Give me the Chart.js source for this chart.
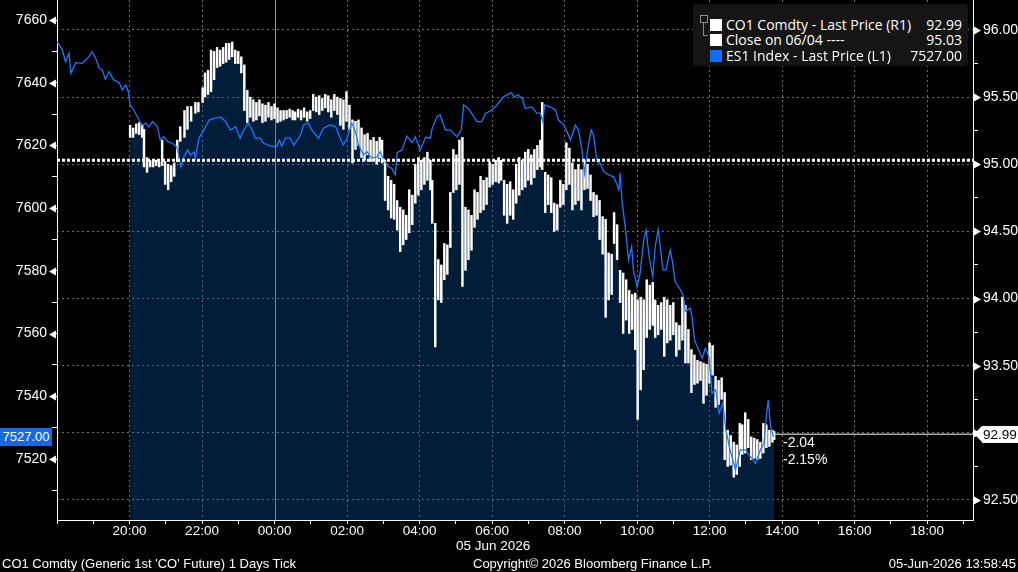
<!DOCTYPE html>
<html>
<head>
<meta charset="utf-8">
<title>CO1 Comdty vs ES1 Index</title>
<script src="https://cdn.jsdelivr.net/npm/chart.js@4.4.0/dist/chart.umd.min.js"></script>
<style>
	body { margin: 0; background: #000; }
	#wrap { position: relative; width: 1018px; height: 572px; overflow: hidden; background: #000; color: #fff;
		font-family: "Liberation Sans", Arial, sans-serif; }
	#chart { position: absolute; left: 0; top: 0; }
	.abs { position: absolute; white-space: nowrap; }
	#legend { left: 693px; top: 4px; width: 275px; height: 62px; background: #151515; border-radius: 4px;
		font-family: "Open Sans", "Liberation Sans", sans-serif; font-size: 14px; }
	#legend .row { position: absolute; left: 17px; right: 6px; height: 16px; line-height: 16px; }
	#legend .sq { position: absolute; left: 0; top: 2px; width: 12px; height: 12px; }
	#legend .name { position: absolute; left: 16px; }
	#legend .val { position: absolute; right: 0; }
	#legend .fold { position: absolute; left: 7px; top: 11px; width: 6px; height: 6px; border: 1px solid #8a8a8a; }
	#legend .tree { position: absolute; left: 10px; top: 19px; width: 4px; height: 12px; border-left: 1px solid #8a8a8a; border-bottom: 1px solid #8a8a8a; }
	#tagLeft { left: 0; top: 428px; width: 52px; height: 18px; line-height: 18px; background: #1668e3; text-align: center; font-size: 13px; }
	#tagRight { left: 982px; top: 426px; width: 36px; height: 17px; line-height: 17px; background: #fff; color: #000; font-size: 13.5px; text-align: left; padding-left: 1px; }
	#tagArrow { left: 974px; top: 426px; width: 0; height: 0; border-top: 8.5px solid transparent; border-bottom: 8.5px solid transparent; border-right: 8px solid #fff; }
	#chg { left: 783px; top: 434px; font-size: 14px; line-height: 17px; }
	#dateLabel { left: 456px; top: 538px; font-size: 13.5px; line-height: 16px; }
	.foot { top: 556px; font-size: 13px; line-height: 16px; }
</style>
</head>
<body>
<div id="wrap">
	<canvas id="chart" width="1018" height="572"></canvas>

	<div id="legend" class="abs">
		<div class="fold"></div>
		<div class="tree"></div>
		<div class="row" style="top: 13px"><span class="sq" style="background:#fff"></span><span class="name">CO1 Comdty - Last Price (R1)</span><span class="val" id="valCo1"></span></div>
		<div class="row" style="top: 28px"><span class="sq" style="background:#fff"></span><span class="name">Close on 06/04 ----</span><span class="val" id="valPrev"></span></div>
		<div class="row" style="top: 44px"><span class="sq" style="background:#0f6dfc"></span><span class="name">ES1 Index - Last Price (L1)</span><span class="val" id="valEs"></span></div>
	</div>

	<div id="tagLeft" class="abs"></div>
	<div id="tagArrow" class="abs"></div>
	<div id="tagRight" class="abs"></div>
	<div id="chg" class="abs"></div>
	<div id="dateLabel" class="abs">05 Jun 2026</div>

	<div class="abs foot" style="left: 2px">CO1 Comdty (Generic 1st 'CO' Future) 1 Days Tick</div>
	<div class="abs foot" style="left: 473px">Copyright© 2026 Bloomberg Finance L.P.</div>
	<div class="abs foot" style="right: 2px">05-Jun-2026 13:58:45</div>
</div>

<script>
// x values are minutes after 18:00 on 04 Jun
const startHour = 18;
const xMin = 0;
const xMax = 1516;
const dayBreak = 360; // 00:00, 05 Jun

// ES1 Index last price (left axis)
const esTimes = [
	0, 9, 14, 20, 23, 31, 42, 53, 58, 64,
	70, 75, 80, 86, 94, 103, 108, 114, 118, 121,
	127, 136, 141, 147, 152, 158, 166, 171, 177, 183,
	191, 198, 202, 205, 210, 216, 221, 227, 229, 235,
	243, 252, 260, 271, 279, 287, 296, 303, 309, 317,
	323, 328, 336, 342, 356, 364, 368, 372, 378, 386,
	392, 403, 408, 416, 422, 433, 441, 452, 461, 469,
	474, 480, 488, 494, 499, 507, 513, 521, 530, 535,
	541, 549, 554, 560, 563, 571, 579, 588, 593, 601,
	610, 618, 621, 629, 634, 643, 651, 662, 669, 673,
	681, 695, 703, 709, 720, 728, 739, 745, 752, 757,
	763, 770, 775, 786, 794, 800, 804, 807, 816, 825,
	830, 839, 844, 850, 858, 863, 869, 873, 879, 884,
	888, 894, 899, 905, 913, 921, 925, 930, 932, 935,
	941, 946, 951, 954, 960, 965, 971, 975, 980, 986,
	990, 995, 999, 1003, 1008, 1015, 1019, 1023, 1032, 1037,
	1040, 1048, 1051, 1055, 1062, 1068, 1073, 1079, 1084, 1090,
	1096, 1102, 1107, 1114, 1123, 1131, 1139, 1148, 1156, 1164,
	1170, 1174, 1177, 1181, 1186,
];
const esValues = [
	7653.1, 7650.4, 7646.7, 7649.4, 7643.0, 7646.4, 7646.2, 7648.3, 7649.9, 7647.8,
	7644.6, 7644.1, 7641.1, 7643.5, 7640.9, 7640.0, 7637.7, 7639.3, 7637.1, 7632.9,
	7631.3, 7628.1, 7626.5, 7627.1, 7626.0, 7627.6, 7626.0, 7621.7, 7622.8, 7621.2,
	7620.7, 7619.6, 7616.4, 7613.2, 7616.4, 7618.5, 7616.9, 7618.0, 7615.9, 7622.3,
	7624.9, 7628.1, 7628.6, 7629.0, 7627.6, 7624.9, 7626.0, 7622.3, 7624.9, 7627.1,
	7624.9, 7622.3, 7622.3, 7620.7, 7619.6, 7619.8, 7621.7, 7619.8, 7622.3, 7622.3,
	7620.1, 7623.3, 7626.5, 7627.1, 7624.9, 7622.3, 7625.5, 7626.5, 7626.0, 7622.3,
	7620.1, 7622.3, 7627.1, 7624.4, 7620.1, 7617.0, 7618.0, 7615.9, 7616.4, 7618.0,
	7615.3, 7613.2, 7612.7, 7610.6, 7617.7, 7618.5, 7623.0, 7620.9, 7622.8, 7618.5,
	7622.6, 7622.3, 7625.5, 7629.2, 7629.7, 7624.9, 7624.9, 7622.8, 7624.9, 7632.9,
	7631.8, 7627.6, 7627.6, 7630.2, 7631.3, 7632.9, 7635.5, 7636.1, 7636.8, 7635.5,
	7636.1, 7635.0, 7631.8, 7632.3, 7630.3, 7630.3, 7627.6, 7632.9, 7632.3, 7631.3,
	7628.1, 7626.5, 7624.4, 7621.7, 7626.5, 7624.9, 7618.5, 7611.1, 7619.6, 7624.9,
	7623.3, 7614.8, 7614.3, 7611.6, 7610.6, 7610.0, 7608.4, 7605.8, 7611.3, 7602.6,
	7593.0, 7583.5, 7587.7, 7580.3, 7574.9, 7579.2, 7589.8, 7593.0, 7584.5, 7578.1,
	7587.7, 7593.2, 7586.7, 7580.3, 7580.3, 7586.7, 7582.4, 7576.6, 7573.9, 7571.8,
	7567.0, 7568.1, 7565.4, 7558.0, 7554.8, 7552.1, 7555.3, 7552.6, 7541.0, 7542.0,
	7534.6, 7537.8, 7529.3, 7522.9, 7516.5, 7522.9, 7522.9, 7520.7, 7518.6, 7522.9,
	7525.0, 7533.5, 7538.8, 7530.3, 7527.0,
];

// CO1 Comdty tick bars (right axis)
const co1Times = [
	121, 126, 131, 136, 141, 144, 149, 154, 159, 164,
	169, 174, 179, 184, 189, 194, 199, 204, 211, 216,
	222, 229, 234, 241, 245, 250, 255, 260, 265, 270,
	275, 280, 285, 290, 295, 300, 305, 310, 315, 320,
	325, 330, 335, 340, 345, 350, 355, 360, 365, 370,
	375, 380, 385, 390, 394, 399, 404, 409, 414, 419,
	424, 429, 434, 439, 444, 449, 454, 459, 464, 469,
	474, 479, 484, 489, 494, 499, 504, 509, 514, 519,
	524, 529, 534, 538, 543, 548, 553, 558, 563, 568,
	573, 578, 583, 588, 593, 598, 603, 608, 613, 618,
	621, 626, 631, 636, 641, 646, 651, 656, 661, 666,
	671, 676, 681, 686, 691, 696, 701, 706, 711, 716,
	721, 726, 731, 735, 740, 745, 750, 755, 760, 765,
	770, 775, 780, 785, 790, 795, 800, 803, 808, 813,
	818, 823, 828, 833, 838, 843, 848, 853, 858, 863,
	868, 873, 878, 883, 888, 893, 898, 903, 908, 913,
	918, 922, 927, 932, 937, 942, 947, 952, 957, 961,
	966, 971, 976, 981, 986, 990, 995, 1000, 1005, 1010,
	1015, 1020, 1025, 1030, 1035, 1040, 1045, 1050, 1055, 1060,
	1065, 1070, 1075, 1080, 1085, 1090, 1095, 1100, 1105, 1110,
	1115, 1120, 1125, 1130, 1134, 1139, 1144, 1149, 1154, 1159,
	1164, 1169, 1174, 1179, 1184, 1187,
];
const co1High = [
	95.29, 95.27, 95.30, 95.31, 95.29, 95.26, 95.05, 95.03, 95.02, 95.03,
	95.02, 95.18, 95.02, 95.00, 94.99, 95.01, 95.18, 95.28, 95.40, 95.43,
	95.43, 95.46, 95.46, 95.57, 95.68, 95.70, 95.85, 95.84, 95.87, 95.85,
	95.87, 95.90, 95.90, 95.91, 95.85, 95.84, 95.80, 95.74, 95.55, 95.50,
	95.48, 95.46, 95.48, 95.45, 95.44, 95.46, 95.43, 95.45, 95.42, 95.40,
	95.40, 95.40, 95.41, 95.40, 95.39, 95.41, 95.40, 95.42, 95.39, 95.40,
	95.52, 95.50, 95.51, 95.49, 95.52, 95.51, 95.48, 95.52, 95.50, 95.49,
	95.48, 95.54, 95.44, 95.33, 95.32, 95.33, 95.27, 95.22, 95.23, 95.18,
	95.20, 95.17, 95.20, 95.18, 95.03, 94.91, 94.88, 94.85, 94.73, 94.68,
	94.66, 94.62, 94.81, 94.77, 95.00, 95.05, 95.03, 95.05, 95.09, 95.03,
	94.88, 94.56, 94.29, 94.25, 94.41, 94.40, 94.79, 95.11, 95.07, 95.18,
	95.20, 94.68, 94.66, 94.62, 94.81, 94.79, 94.91, 94.88, 94.90, 95.02,
	95.00, 95.03, 95.05, 95.03, 94.88, 94.85, 94.87, 94.81, 95.00, 95.05,
	95.03, 95.09, 95.11, 95.07, 95.11, 95.14, 95.18, 95.46, 94.94, 94.92,
	94.90, 94.71, 94.70, 94.88, 94.85, 95.16, 95.12, 95.01, 94.96, 95.00,
	94.96, 95.03, 95.00, 94.92, 94.79, 94.77, 94.73, 94.61, 94.59, 94.34,
	94.33, 94.64, 94.55, 94.21, 94.19, 94.14, 94.06, 94.03, 94.04, 93.99,
	94.01, 93.99, 94.14, 94.10, 94.12, 93.99, 93.95, 93.97, 94.01, 93.99,
	93.95, 93.97, 93.82, 93.80, 94.01, 93.95, 93.77, 93.62, 93.58, 93.54,
	93.53, 93.52, 93.51, 93.67, 93.65, 93.42, 93.39, 93.41, 93.30, 93.02,
	92.98, 92.93, 92.91, 93.07, 93.06, 93.15, 93.10, 92.97, 92.96, 92.95,
	92.93, 93.07, 93.06, 93.02, 93.02, 93.01,
];
const co1Low = [
	95.20, 95.20, 95.23, 95.22, 95.20, 94.98, 94.94, 94.98, 94.98, 94.99,
	94.98, 94.99, 94.85, 94.81, 94.87, 94.91, 95.02, 95.17, 95.20, 95.26,
	95.32, 95.38, 95.39, 95.46, 95.50, 95.52, 95.54, 95.63, 95.72, 95.73,
	95.75, 95.76, 95.78, 95.80, 95.75, 95.75, 95.68, 95.40, 95.31, 95.35,
	95.32, 95.33, 95.36, 95.31, 95.32, 95.35, 95.33, 95.34, 95.31, 95.32,
	95.33, 95.34, 95.35, 95.33, 95.33, 95.35, 95.33, 95.35, 95.32, 95.34,
	95.40, 95.39, 95.37, 95.40, 95.42, 95.39, 95.35, 95.40, 95.37, 95.29,
	95.26, 95.32, 95.26, 95.01, 95.11, 95.14, 95.05, 95.03, 95.07, 95.02,
	95.03, 95.00, 95.05, 95.01, 94.73, 94.66, 94.60, 94.59, 94.51, 94.35,
	94.40, 94.44, 94.49, 94.55, 94.71, 94.77, 94.81, 94.85, 94.88, 94.81,
	94.56, 93.64, 93.99, 93.97, 94.14, 94.18, 94.38, 94.79, 94.81, 94.85,
	94.09, 94.21, 94.29, 94.36, 94.53, 94.59, 94.64, 94.66, 94.70, 94.83,
	94.85, 94.87, 94.86, 94.88, 94.62, 94.56, 94.62, 94.59, 94.71, 94.77,
	94.81, 94.83, 94.88, 94.85, 94.90, 94.96, 94.98, 94.96, 94.64, 94.70,
	94.64, 94.50, 94.51, 94.68, 94.70, 94.81, 94.85, 94.66, 94.70, 94.73,
	94.66, 94.81, 94.82, 94.73, 94.61, 94.62, 94.44, 94.33, 93.86, 93.99,
	94.03, 94.41, 94.29, 93.97, 93.74, 93.84, 93.74, 93.77, 93.62, 93.10,
	93.32, 93.47, 93.71, 93.77, 93.80, 93.71, 93.73, 93.77, 93.57, 93.67,
	93.69, 93.73, 93.57, 93.62, 93.69, 93.52, 93.52, 93.30, 93.36, 93.37,
	93.39, 93.22, 93.28, 93.37, 93.43, 93.19, 93.21, 93.25, 92.80, 92.75,
	92.76, 92.67, 92.69, 92.75, 92.84, 92.85, 92.89, 92.80, 92.81, 92.80,
	92.81, 92.85, 92.89, 92.90, 92.93, 92.95,
];
const co1Close = [
	95.23, 95.21, 95.26, 95.26, 95.25, 95.03, 95.00, 95.00, 95.00, 95.01,
	95.00, 95.03, 94.94, 94.91, 94.94, 94.96, 95.11, 95.21, 95.27, 95.33,
	95.37, 95.42, 95.43, 95.51, 95.57, 95.59, 95.63, 95.70, 95.78, 95.79,
	95.80, 95.81, 95.84, 95.85, 95.80, 95.79, 95.74, 95.48, 95.40, 95.40,
	95.39, 95.39, 95.42, 95.37, 95.39, 95.40, 95.39, 95.40, 95.35, 95.37,
	95.37, 95.37, 95.38, 95.37, 95.37, 95.38, 95.37, 95.39, 95.37, 95.37,
	95.45, 95.44, 95.43, 95.45, 95.46, 95.44, 95.42, 95.46, 95.43, 95.39,
	95.35, 95.40, 95.33, 95.18, 95.22, 95.24, 95.17, 95.12, 95.14, 95.09,
	95.11, 95.07, 95.12, 95.09, 94.85, 94.77, 94.73, 94.70, 94.62, 94.47,
	94.51, 94.53, 94.65, 94.66, 94.85, 94.92, 94.94, 94.96, 95.00, 94.90,
	94.70, 94.06, 94.14, 94.10, 94.27, 94.29, 94.55, 94.92, 94.94, 95.00,
	94.73, 94.44, 94.47, 94.50, 94.66, 94.67, 94.77, 94.77, 94.79, 94.92,
	94.92, 94.94, 94.96, 94.96, 94.75, 94.70, 94.73, 94.70, 94.85, 94.90,
	94.91, 94.96, 95.00, 94.96, 95.00, 95.05, 95.07, 95.11, 94.77, 94.81,
	94.77, 94.60, 94.60, 94.77, 94.77, 94.97, 95.00, 94.81, 94.82, 94.85,
	94.79, 94.92, 94.90, 94.85, 94.70, 94.70, 94.59, 94.47, 94.33, 94.18,
	94.20, 94.53, 94.40, 94.08, 93.99, 94.00, 93.92, 93.90, 93.84, 93.69,
	93.77, 93.80, 93.92, 93.95, 93.99, 93.86, 93.84, 93.88, 93.80, 93.83,
	93.84, 93.86, 93.69, 93.71, 93.80, 93.73, 93.65, 93.47, 93.47, 93.45,
	93.45, 93.39, 93.41, 93.53, 93.54, 93.32, 93.30, 93.32, 93.02, 92.87,
	92.86, 92.80, 92.80, 92.89, 92.95, 92.98, 92.96, 92.89, 92.89, 92.87,
	92.87, 92.95, 92.98, 92.98, 92.99, 92.99,
];

const prevClose = 95.03; // close on 06/04

// axis ranges
const leftMin = 7500.55;
const leftMax = 7666.38;
const rightMin = 92.351;
const rightMax = 96.223;

const axisFont = '"Liberation Sans", Arial, sans-serif';
const gridGray = "#6e6e6e";

document.addEventListener("DOMContentLoaded", function () {
	const lastCo1 = co1Close[co1Close.length - 1];
	const lastEs = esValues[esValues.length - 1];
	const lastTime = co1Times[co1Times.length - 1];

	// text boxes
	document.getElementById("valCo1").textContent = lastCo1.toFixed(2);
	document.getElementById("valPrev").textContent = prevClose.toFixed(2);
	document.getElementById("valEs").textContent = lastEs.toFixed(2);
	document.getElementById("tagLeft").textContent = lastEs.toFixed(2);
	document.getElementById("tagRight").textContent = lastCo1.toFixed(2);
	const change = lastCo1 - prevClose;
	document.getElementById("chg").innerHTML =
		change.toFixed(2) + "<br>" + ((change / prevClose) * 100).toFixed(2) + "%";

	const isMajorLeft = (v) => Math.abs(v % 20) < 1e-6;
	const isMajorRight = (v) => Math.abs(v * 2 - Math.round(v * 2)) < 1e-6;

	// midnight line and the little arrow heads on the value axes
	const axisMarks = {
		id: "axisMarks",
		beforeDatasetsDraw(chart) {
			const { ctx, chartArea, scales } = chart;
			const px = Math.round(scales.x.getPixelForValue(dayBreak)) + 0.5;
			ctx.save();
			ctx.strokeStyle = "#8a9ab4";
			ctx.lineWidth = 1;
			ctx.beginPath();
			ctx.moveTo(px, chartArea.top);
			ctx.lineTo(px, chartArea.bottom);
			ctx.stroke();
			ctx.restore();
		},
		afterDraw(chart) {
			const { ctx, chartArea, scales } = chart;
			ctx.save();
			ctx.fillStyle = "#ffffff";
			scales.yL.ticks.forEach((t) => {
				if (!isMajorLeft(t.value)) return;
				const y = Math.round(scales.yL.getPixelForValue(t.value)) + 0.5;
				ctx.beginPath();
				ctx.moveTo(chartArea.left - 8, y);
				ctx.lineTo(chartArea.left - 1, y - 4);
				ctx.lineTo(chartArea.left - 1, y + 4);
				ctx.closePath();
				ctx.fill();
			});
			scales.yR.ticks.forEach((t) => {
				if (!isMajorRight(t.value)) return;
				const y = Math.round(scales.yR.getPixelForValue(t.value)) + 0.5;
				ctx.beginPath();
				ctx.moveTo(chartArea.right + 8, y);
				ctx.lineTo(chartArea.right + 1, y - 4);
				ctx.lineTo(chartArea.right + 1, y + 4);
				ctx.closePath();
				ctx.fill();
			});
			ctx.restore();
		},
	};

	const ctx = document.getElementById("chart").getContext("2d");

	const chart = new Chart(ctx, {
		data: {
			datasets: [
				{
					type: "line",
					label: "Close on 06/04",
					data: [
						{ x: xMin, y: prevClose },
						{ x: xMax, y: prevClose },
					],
					yAxisID: "yR",
					borderColor: "#ffffff",
					borderWidth: 3,
					borderDash: [3, 2],
					pointRadius: 0,
					order: 0,
				},
				{
					type: "line",
					label: "CO1 last",
					data: [
						{ x: lastTime, y: lastCo1 },
						{ x: xMax, y: lastCo1 },
					],
					yAxisID: "yR",
					borderColor: "#ffffff",
					borderWidth: 1,
					pointRadius: 0,
					order: 0,
				},
				{
					type: "line",
					label: "ES1 Index - Last Price (L1)",
					data: esTimes.map((t, i) => ({ x: t, y: esValues[i] })),
					yAxisID: "yL",
					borderColor: "#1a78ff",
					borderWidth: 1.3,
					pointRadius: 0,
					tension: 0,
					order: 1,
				},
				{
					type: "bar",
					label: "CO1 Comdty - Last Price (R1)",
					data: co1Times.map((t, i) => ({ x: t, y: [co1Low[i], co1High[i]] })),
					yAxisID: "yR",
					backgroundColor: "#ffffff",
					barThickness: 1.8,
					grouped: false,
					order: 2,
				},
				{
					type: "line",
					label: "CO1 area",
					data: co1Times.map((t, i) => ({ x: t, y: co1Close[i] })),
					yAxisID: "yR",
					fill: "start",
					backgroundColor: "rgba(7, 97, 193, 0.3)",
					borderWidth: 0,
					pointRadius: 0,
					order: 3,
				},
			],
		},
		options: {
			responsive: false,
			animation: false,
			layout: { padding: 0 },
			plugins: {
				legend: { display: false },
				tooltip: { enabled: false },
			},
			scales: {
				x: {
					type: "linear",
					position: "bottom",
					offset: false,
					min: xMin,
					max: xMax,
					afterFit: (s) => {
						s.height = 52;
						s.paddingLeft = 0;
						s.paddingRight = 0;
					},
					border: { color: "#ffffff", width: 1, dash: [2, 3] },
					grid: {
						offset: false,
						color: (c) => {
							const v = c.tick ? c.tick.value : 0;
							return v % 120 === 0 && v !== 0 && v !== dayBreak ? gridGray : "rgba(0,0,0,0)";
						},
						tickColor: "#ffffff",
						tickLength: 4,
					},
					ticks: {
						stepSize: 60,
						includeBounds: false,
						autoSkip: false,
						maxRotation: 0,
						padding: 1,
						color: "#ffffff",
						font: { family: axisFont, size: 13.5, lineHeight: 1 },
						callback: (v) => {
							if (v === 0 || v % 120 !== 0) return "";
							const hh = ((startHour * 60 + v) / 60) % 24;
							return String(hh).padStart(2, "0") + ":00";
						},
					},
				},
				yL: {
					type: "linear",
					position: "left",
					min: leftMin,
					max: leftMax,
					afterFit: (s) => {
						s.width = 57;
						s.paddingTop = 0;
						s.paddingBottom = 0;
					},
					border: { color: "#ffffff", width: 1 },
					grid: { drawOnChartArea: false, tickColor: "#ffffff", tickLength: 5 },
					ticks: {
						stepSize: 10,
						includeBounds: false,
						autoSkip: false,
						padding: 5,
						color: "#ffffff",
						font: { family: axisFont, size: 14 },
						callback: (v) => (isMajorLeft(v) ? String(Math.round(v)) : ""),
					},
				},
				yR: {
					type: "linear",
					position: "right",
					min: rightMin,
					max: rightMax,
					afterFit: (s) => {
						s.width = 45;
						s.paddingTop = 0;
						s.paddingBottom = 0;
					},
					border: { color: "#ffffff", width: 1, dash: [2, 3] },
					grid: {
						color: (c) => (c.tick && isMajorRight(c.tick.value) ? gridGray : "rgba(0,0,0,0)"),
						tickColor: "#ffffff",
						tickLength: 5,
					},
					ticks: {
						stepSize: 0.25,
						includeBounds: false,
						autoSkip: false,
						padding: 5,
						color: "#ffffff",
						font: { family: axisFont, size: 14 },
						callback: (v) => (isMajorRight(v) ? v.toFixed(2) : ""),
					},
				},
			},
		},
		plugins: [axisMarks],
	});
});
</script>
</body>
</html>
